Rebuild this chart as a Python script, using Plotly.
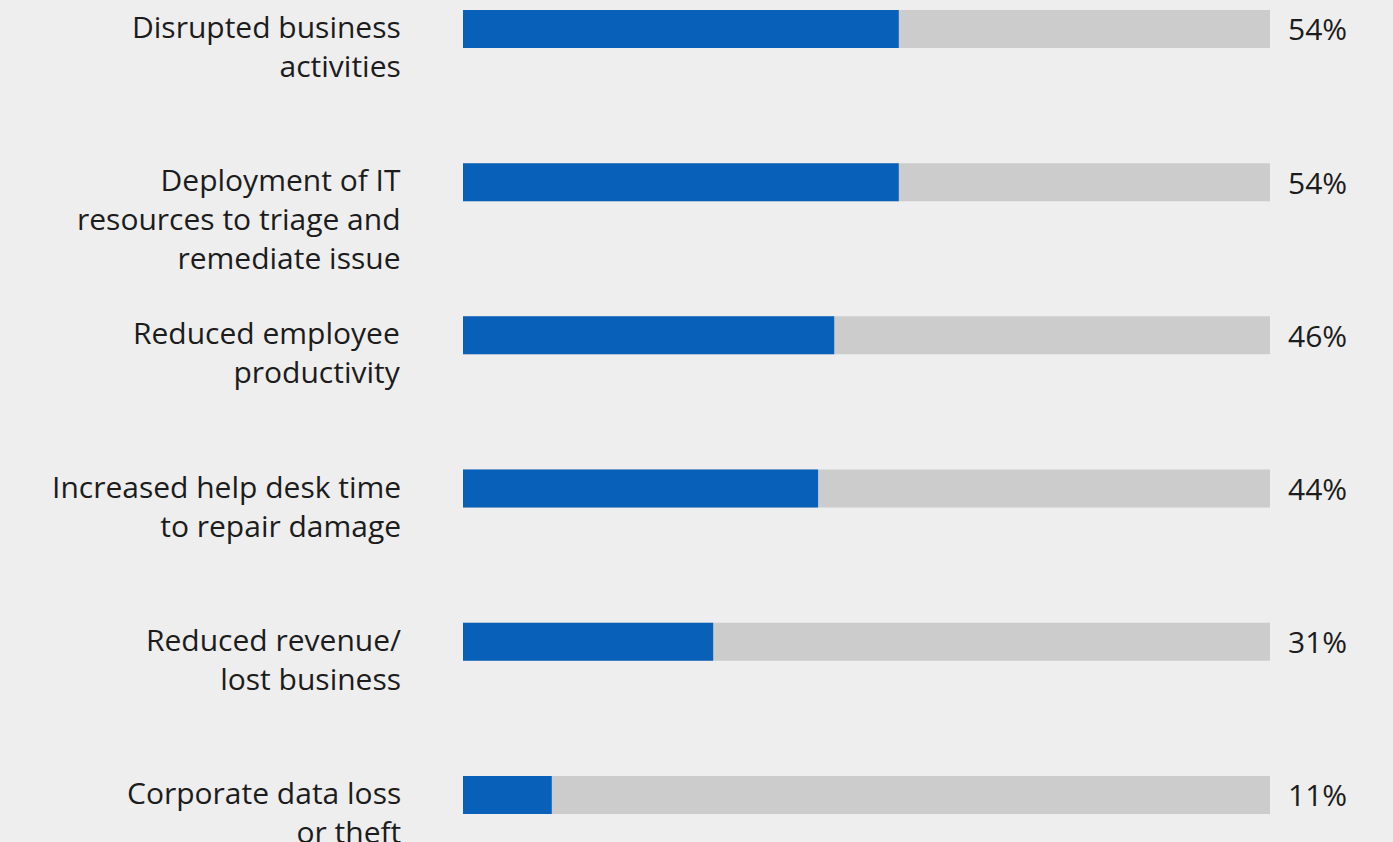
import plotly.graph_objects as go

# Survey results: impact of the incident, share of respondents (%)
categories = [
    "Disrupted business<br>activities",
    "Deployment of IT<br>resources to triage and<br>remediate issue",
    "Reduced employee<br>productivity",
    "Increased help desk time<br>to repair damage",
    "Reduced revenue/<br>lost business",
    "Corporate data loss<br>or theft",
]
values = [54, 54, 46, 44, 31, 11]
track_max = 100

BLUE = "#0960b8"
TRACK = "#cccccc"
BG = "#eeeeee"
TEXT = "#1c1c1c"
FONT = "Open Sans"
FONT_SIZE = 30

idx = list(range(len(categories)))
bar_w = 0.248

fig = go.Figure()
fig.add_trace(go.Bar(
    y=idx, x=[track_max] * len(idx), orientation="h",
    marker=dict(color=TRACK, line=dict(width=0)), width=bar_w,
    hoverinfo="skip", showlegend=False,
))
fig.add_trace(go.Bar(
    y=idx, x=values, orientation="h",
    marker=dict(color=BLUE, line=dict(width=0)), width=bar_w,
    hoverinfo="skip", showlegend=False,
))

annotations = []
for i, (cat, v) in enumerate(zip(categories, values)):
    # category label, right-aligned left of the track, top-aligned with the bar
    annotations.append(dict(
        x=0, xref="paper", xanchor="right", xshift=-60,
        y=i - bar_w / 2, yref="y", yanchor="top", yshift=6,
        text=cat, align="right", showarrow=False,
        font=dict(family=FONT, size=FONT_SIZE, color=TEXT),
    ))
    # value label to the right of the track
    annotations.append(dict(
        x=1, xref="paper", xanchor="left", xshift=16,
        y=i, yref="y", yanchor="middle",
        text=f"{v}%", showarrow=False,
        font=dict(family=FONT, size=FONT_SIZE, color=TEXT),
    ))

fig.update_layout(
    width=1393, height=842,
    margin=dict(l=463, r=123, t=0, b=0),
    paper_bgcolor=BG, plot_bgcolor=BG,
    barmode="overlay",
    xaxis=dict(range=[0, track_max], visible=False, fixedrange=True),
    yaxis=dict(range=[5.307, -0.189], visible=False, fixedrange=True),
    annotations=annotations,
)

fig.write_html("out.html", config={"displayModeBar": False})
